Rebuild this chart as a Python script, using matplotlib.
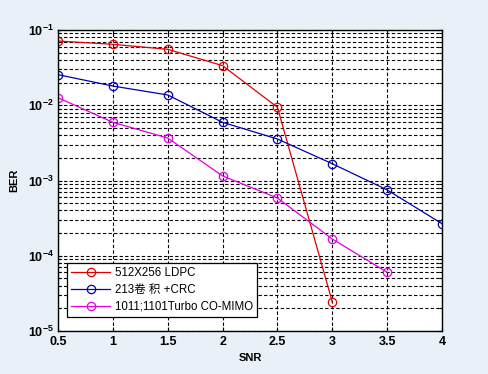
import matplotlib
matplotlib.use("Agg")
import matplotlib.pyplot as plt
from matplotlib.ticker import LogLocator, FixedLocator

snr = [0.5, 1, 1.5, 2, 2.5, 3, 3.5, 4]
ldpc_x = [0.5, 1, 1.5, 2, 2.5, 3]
ldpc_ber = [0.0714, 0.0645, 0.0554, 0.0336, 0.0094, 2.43e-5]
conv_x = [0.5, 1, 1.5, 2, 2.5, 3, 3.5, 4]
conv_ber = [0.0255, 0.018, 0.0137, 0.00593, 0.00356, 0.00167, 7.5e-4, 2.67e-4]
turbo_x = [0.5, 1, 1.5, 2, 2.5, 3, 3.5]
turbo_ber = [0.0126, 0.00593, 0.00367, 0.00115, 5.85e-4, 1.67e-4, 6.03e-5]
labels = ["512X256 LDPC", "213卷 积 +CRC", "1011;1101Turbo CO-MIMO"]
xticklabels = ["0.5", "1", "1.5", "2", "2.5", "3", "3.5", "4"]

plt.rcParams['font.family'] = ['Liberation Sans', 'Noto Sans CJK SC', 'DejaVu Sans']

fig = plt.figure(figsize=(4.88, 3.74), dpi=100)
fig.patch.set_facecolor('#EAF0F8')
ax = fig.add_axes([58/488, 1-331/374, 384/488, 301/374])
ax.set_facecolor('white')

kw = dict(lw=0.9, marker='o', ms=6, mfc='none', mew=0.9)
ax.plot(ldpc_x, ldpc_ber, color='#E00000', label=labels[0], **kw)
ax.plot(conv_x, conv_ber, color='#0000B0', label=labels[1], **kw)
ax.plot(turbo_x, turbo_ber, color='#E000E0', label=labels[2], **kw)

ax.set_yscale('log')
ax.set_xlim(0.5, 4)
ax.set_ylim(1e-5, 1e-1)
ax.xaxis.set_major_locator(FixedLocator(snr))
ax.set_xticklabels(xticklabels, fontweight='bold', fontsize=9)
ax.yaxis.set_major_locator(LogLocator(base=10, numticks=10))
ax.yaxis.set_minor_locator(LogLocator(base=10, subs=range(2, 10), numticks=20))
for t in ax.get_yticklabels():
    t.set_fontweight('bold'); t.set_fontsize(9)
ax.tick_params(which='both', direction='in', top=True, right=True, length=3, width=0.8)
ax.tick_params(which='minor', length=2)
ax.tick_params(axis='y', pad=3)
ax.grid(True, which='major', color='black', ls=(0, (3, 2)), lw=0.8)
ax.grid(True, which='minor', axis='y', color='black', ls=(0, (3, 2)), lw=0.8)
for s in ax.spines.values():
    s.set_linewidth(1.0)

ax.set_xlabel('SNR', fontweight='bold', fontsize=8, labelpad=4)
ax.set_ylabel('BER', fontweight='bold', fontsize=8)
ax.yaxis.set_label_coords(-0.1, 0.5)

leg = ax.legend(loc='lower left', bbox_to_anchor=(9/384, 14/301), fontsize=8.3,
                frameon=True, fancybox=False, edgecolor='black', framealpha=1,
                borderpad=0.35, labelspacing=0.45, handlelength=3.4, handletextpad=0.4,
                borderaxespad=0)
leg.get_frame().set_linewidth(0.9)

fig.savefig('out.png', dpi=100, facecolor=fig.get_facecolor())
